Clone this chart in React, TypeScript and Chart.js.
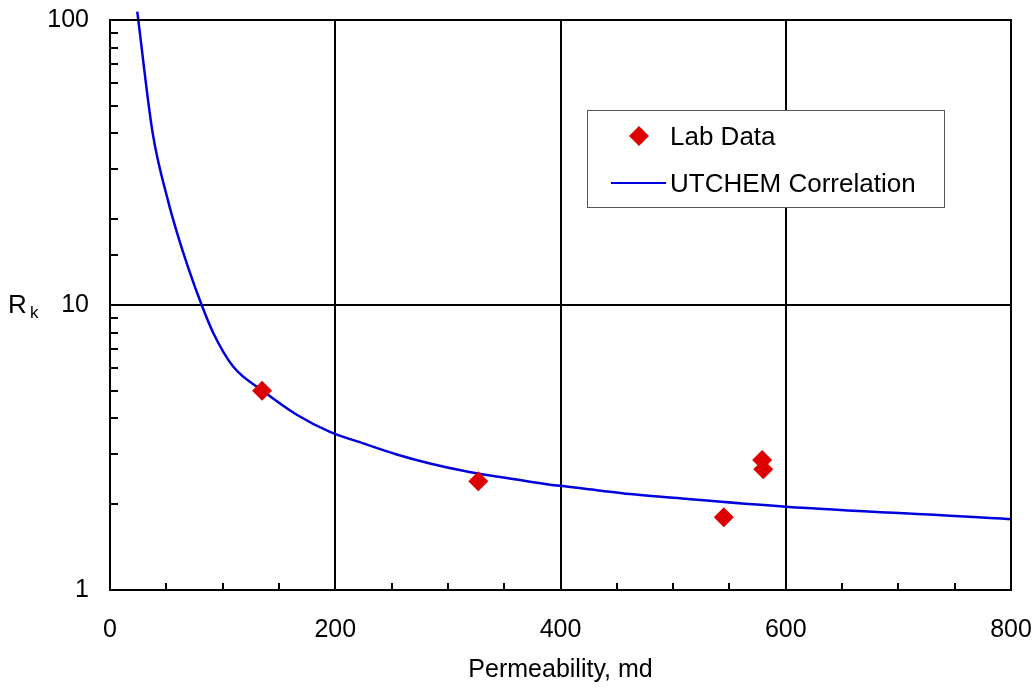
import React, { useEffect, useRef } from "react";
import { Chart, registerables } from "chart.js";

Chart.register(...registerables);

const labPermeability = [135, 327, 545, 579, 580];
const labRk = [5.0, 2.41, 1.8, 2.86, 2.65];

const corrPermeability = [24.2, 37.9, 51.8, 59.2, 69.5, 81.4, 91.7, 109.5, 135.6, 165.8, 195.3, 224.9, 254.6, 284.1, 313.7, 343.4, 372.9, 399.6, 432.1, 461.7, 497.2, 600, 800, 808];
const corrRk = [107, 40.1, 23.0, 18.1, 13.5, 10, 7.98, 6.07, 5.0, 4.12, 3.59, 3.27, 2.99, 2.78, 2.62, 2.5, 2.4, 2.32, 2.24, 2.17, 2.11, 1.96, 1.77, 1.76];

const xLabels = [0, 200, 400, 600, 800];
const yLabels = [1, 10, 100];
const xMajorGrid = [200, 400, 600];
const yMajorGrid = [10];

const FONT = "'Liberation Sans', Arial, sans-serif";
const RED = "#DD0000";
const BLUE = "#0000DD";

const framePlugin = {
  id: "frameAndLegend",
  afterDatasetsDraw(chart: any) {
    const { ctx, chartArea: a, scales } = chart;
    const xs = scales.x;
    const ys = scales.y;
    ctx.save();
    // minor ticks
    ctx.strokeStyle = "#000";
    ctx.lineWidth = 2;
    ctx.beginPath();
    xs.ticks.forEach((t: any) => {
      const px = Math.round(xs.getPixelForValue(t.value));
      ctx.moveTo(px, a.bottom);
      ctx.lineTo(px, a.bottom - 7);
    });
    ys.ticks.forEach((t: any) => {
      const py = Math.round(ys.getPixelForValue(t.value));
      ctx.moveTo(a.left, py);
      ctx.lineTo(a.left + 8, py);
    });
    ctx.stroke();
    // frame
    ctx.strokeRect(a.left, a.top, a.right - a.left, a.bottom - a.top);

    // legend
    const lx = 587.5, ly = 110.5, lw = 357, lh = 97;
    ctx.fillStyle = "#fff";
    ctx.fillRect(lx, ly, lw, lh);
    ctx.strokeStyle = "#555";
    ctx.lineWidth = 1;
    ctx.strokeRect(lx, ly, lw, lh);
    // diamond
    ctx.fillStyle = RED;
    ctx.beginPath();
    ctx.moveTo(639, 126);
    ctx.lineTo(649, 136);
    ctx.lineTo(639, 146);
    ctx.lineTo(629, 136);
    ctx.closePath();
    ctx.fill();
    // line
    ctx.strokeStyle = BLUE;
    ctx.lineWidth = 2;
    ctx.beginPath();
    ctx.moveTo(611, 183);
    ctx.lineTo(666, 183);
    ctx.stroke();
    ctx.fillStyle = "#000";
    ctx.font = `26px ${FONT}`;
    ctx.textBaseline = "middle";
    ctx.textAlign = "left";
    ctx.fillText(chart.data.datasets[0].label, 670, 138);
    ctx.fillText(chart.data.datasets[1].label, 670, 185);

    // y title R_k
    ctx.textBaseline = "alphabetic";
    ctx.font = `26px ${FONT}`;
    ctx.fillText("R", 8, 313);
    ctx.font = `17px ${FONT}`;
    ctx.fillText("k", 30, 318);
    ctx.restore();
  },
};

export default function App() {
  const ref = useRef<HTMLCanvasElement>(null);
  useEffect(() => {
    if (!ref.current) return;
    const chart = new Chart(ref.current, {
      type: "scatter",
      data: {
        datasets: [
          {
            label: "Lab Data",
            data: labPermeability.map((x, i) => ({ x, y: labRk[i] })),
            pointStyle: "rectRot",
            pointRadius: 10,
            pointBackgroundColor: RED,
            pointBorderColor: RED,
            pointBorderWidth: 0,
            showLine: false,
          },
          {
            label: "UTCHEM Correlation",
            data: corrPermeability.map((x, i) => ({ x, y: corrRk[i] })),
            showLine: true,
            pointRadius: 0,
            borderColor: BLUE,
            borderWidth: 2.5,
            cubicInterpolationMode: "monotone",
            clip: false as any,
          },
        ],
      },
      options: {
        responsive: false,
        animation: false,
        layout: { padding: { left: 0, top: 20, right: 24, bottom: 0 } },
        plugins: {
          legend: { display: false },
          tooltip: { enabled: false },
        },
        scales: {
          x: {
            type: "linear",
            min: 0,
            max: 800,
            afterFit: (s: any) => {
              s.height = 100;
            },
            ticks: {
              stepSize: 50,
              autoSkip: false,
              maxRotation: 0,
              padding: 0,
              color: "#000",
              font: { family: FONT, size: 25 },
              callback: (v: any) => (xLabels.includes(Number(v)) ? String(v) : ""),
            },
            grid: {
              drawTicks: true,
              tickLength: 25,
              tickColor: "rgba(0,0,0,0)",
              lineWidth: 2,
              color: (c: any) => (xMajorGrid.includes(c.tick?.value) ? "#000" : "rgba(0,0,0,0)"),
            },
            border: { display: false },
            title: {
              display: true,
              text: "Permeability, md",
              color: "#000",
              font: { family: FONT, size: 25 },
              padding: { top: 5, bottom: 5 },
            },
          },
          y: {
            type: "logarithmic",
            min: 1,
            max: 100,
            afterFit: (s: any) => {
              s.width = 110;
            },
            ticks: {
              autoSkip: false,
              padding: 0,
              color: "#000",
              font: { family: FONT, size: 25 },
              callback: (v: any) => (yLabels.includes(Number(v)) ? String(v) : ""),
            },
            grid: {
              drawTicks: true,
              tickLength: 21,
              tickColor: "rgba(0,0,0,0)",
              lineWidth: 2,
              color: (c: any) => (yMajorGrid.includes(c.tick?.value) ? "#000" : "rgba(0,0,0,0)"),
            },
            border: { display: false },
          },
        },
      },
      plugins: [framePlugin],
    });
    return () => chart.destroy();
  }, []);
  return (
    <div style={{ position: "fixed", left: 0, top: 0, width: 1035, height: 690, background: "#fff" }}>
      <canvas ref={ref} width={1035} height={690} />
    </div>
  );
}
